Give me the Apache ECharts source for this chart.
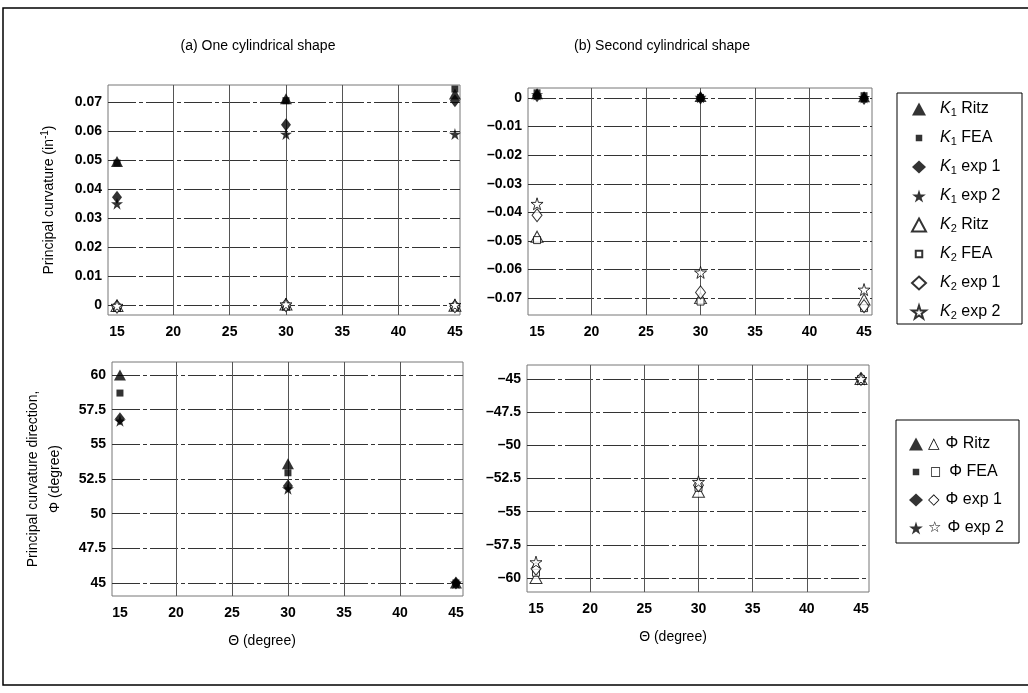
<!DOCTYPE html>
<html><head><meta charset="utf-8">
<script src="https://cdn.jsdelivr.net/npm/echarts@6/dist/echarts.min.js"></script>
<style>html,body{margin:0;padding:0;background:#fff}#c{width:1028px;height:693px}</style>
</head><body><div id="c"></div>
<script>
// ---- data ----
const theta = [15, 30, 45];
// (a) One cylindrical shape – principal curvatures (1/in)
const aK1Ritz = [0.0495, 0.0712, 0.0728];
const aK1FEA  = [0.0490, 0.0705, 0.0745];
const aK1Exp1 = [0.0372, 0.0622, 0.0705];
const aK1Exp2 = [0.0350, 0.0590, 0.0590];
const aK2Ritz = [-0.0003, 0.0002, -0.0002];
const aK2FEA  = [-0.0008, -0.0005, -0.0006];
const aK2Exp1 = [-0.0005, 0.0000, -0.0004];
const aK2Exp2 = [-0.0002, 0.0003, 0.0001];
// (b) Second cylindrical shape – principal curvatures (1/in)
const bK1Ritz = [0.0015, 0.0005, 0.0004];
const bK1FEA  = [0.0018, 0.0002, 0.0008];
const bK1Exp1 = [0.0008, 0.0000, -0.0002];
const bK1Exp2 = [0.0012, 0.0003, 0.0002];
const bK2Ritz = [-0.0485, -0.0700, -0.0705];
const bK2FEA  = [-0.0497, -0.0712, -0.0735];
const bK2Exp1 = [-0.0410, -0.0680, -0.0728];
const bK2Exp2 = [-0.0370, -0.0610, -0.0670];
// principal curvature direction Phi (degree)
const aPhiRitz = [60.0, 53.6, 45.0];
const aPhiFEA  = [58.7, 52.95, 45.0];
const aPhiExp1 = [56.85, 52.0, 45.0];
const aPhiExp2 = [56.7, 51.8, 45.0];
const bPhiRitz = [-60.0, -53.5, -45.0];
const bPhiFEA  = [-59.6, -53.2, -45.0];
const bPhiExp1 = [-59.3, -53.0, -45.0];
const bPhiExp2 = [-58.8, -52.75, -45.0];
// ticks
const thetaTicks = [15, 20, 25, 30, 35, 40, 45];
const thetaGrid = [20, 25, 30, 35, 40];
const kTicksA = [0, 0.01, 0.02, 0.03, 0.04, 0.05, 0.06, 0.07];
const kTicksB = [-0.07, -0.06, -0.05, -0.04, -0.03, -0.02, -0.01, 0];
const phiTicksA = [45, 47.5, 50, 52.5, 55, 57.5, 60];
const phiTicksB = [-60, -57.5, -55, -52.5, -50, -47.5, -45];
const kNames = ['K1 Ritz', 'K1 FEA', 'K1 exp 1', 'K1 exp 2', 'K2 Ritz', 'K2 FEA', 'K2 exp 1', 'K2 exp 2'];
const phiNames = ['Φ Ritz', 'Φ FEA', 'Φ exp 1', 'Φ exp 2'];
const hollowGlyphs = ['△', '□', '◇', '☆'];

// ---- styling ----
const FONT = 'Liberation Sans, Arial, sans-serif';
const STAR = 'path://M50,0 L61,35 L98,35 L68,57 L79,91 L50,70 L21,91 L32,57 L2,35 L39,35 Z';
const SMALL_RECT = 'path://M0,0M14,14M3.5,3.5L10.5,3.5L10.5,10.5L3.5,10.5Z';
const shapes = [
  {symbol: 'triangle', size: [12, 11]},
  {symbol: 'rect', size: 7},
  {symbol: 'diamond', size: [10, 13]},
  {symbol: STAR, size: 12}
];
const filled = {color: '#000', borderColor: '#000', borderWidth: 0};
const hollow = {color: '#fff', borderColor: '#000', borderWidth: 1};

const zip = (xs, ys) => xs.map((x, i) => [x, ys[i]]);

function xAxis(gi, min, max) {
  return {
    type: 'value', gridIndex: gi, min: min, max: max,
    axisLine: {show: false},
    axisTick: {show: false, customValues: thetaGrid},
    axisLabel: {customValues: thetaTicks, margin: 10, color: '#000',
      fontFamily: FONT, fontSize: 14, fontWeight: 'bold'},
    splitLine: {show: true, lineStyle: {color: '#555', width: 1}}
  };
}
function yAxis(gi, min, max, ticks, name, nameGap) {
  return {
    type: 'value', gridIndex: gi, min: min, max: max,
    axisLine: {show: false},
    axisTick: {show: false, customValues: ticks},
    axisLabel: {customValues: ticks, margin: 6, color: '#000',
      fontFamily: FONT, fontSize: 14, fontWeight: 'bold',
      formatter: v => String(+v.toFixed(4)).replace('-', '–')},
    splitLine: {show: true, lineStyle: {color: '#333', width: 1, type: [28, 3, 4, 3]}},
    name: name, nameLocation: 'middle', nameGap: nameGap, nameRotate: 90,
    nameTextStyle: {color: '#000', fontFamily: FONT, fontSize: 14, lineHeight: 22,
      rich: {
        t: {fontFamily: FONT, fontSize: 14, color: '#000'},
        sp: {fontFamily: FONT, fontSize: 10, color: '#000', padding: [0, 0, 7, 0]}
      }}
  };
}

function kSeries(gi, arrays) {
  return arrays.map((ys, i) => ({
    name: kNames[i], type: 'scatter', xAxisIndex: gi, yAxisIndex: gi,
    symbol: shapes[i % 4].symbol, symbolSize: shapes[i % 4].size,
    itemStyle: i < 4 ? filled : hollow,
    z: i < 4 ? 3 : 4,
    data: zip(theta, ys)
  }));
}
function phiSeries(gi, arrays, isHollow) {
  return arrays.map((ys, i) => ({
    name: phiNames[i], type: 'scatter', xAxisIndex: gi, yAxisIndex: gi,
    symbol: shapes[i].symbol, symbolSize: shapes[i].size,
    itemStyle: isHollow ? hollow : filled,
    data: zip(theta, ys)
  }));
}

const gridStyle = {show: true, borderColor: '#777', borderWidth: 1, backgroundColor: 'transparent'};
const legendText = {fontFamily: FONT, fontSize: 16, color: '#000',
  rich: {
    k: {fontFamily: FONT, fontSize: 16, fontStyle: 'italic', color: '#000', padding: [0, 0, 0, 9]},
    s: {fontFamily: FONT, fontSize: 11, color: '#000', padding: [8, 0, 0, 0]},
    t: {fontFamily: FONT, fontSize: 16, color: '#000'},
    h: {fontFamily: 'DejaVu Sans', fontSize: 15, color: '#000', padding: [0, 6, 0, 0]},
    hs: {fontFamily: 'DejaVu Sans', fontSize: 12, color: '#000', padding: [0, 8, 0, 2]}
  }};
const legendIcon = n => (n.indexOf('FEA') >= 0 ? {name: n, icon: SMALL_RECT} : n);

const option = {
  backgroundColor: '#fff',
  animation: false,
  graphic: [
    {type: 'rect', shape: {x: 3, y: 8, width: 1040, height: 677}, style: {fill: 'none', stroke: '#000', lineWidth: 1.5}, z: 0, silent: true},
    {type: 'rect', shape: {x: 897, y: 93, width: 125, height: 231}, style: {fill: 'none', stroke: '#000', lineWidth: 1}, silent: true},
    {type: 'rect', shape: {x: 896, y: 420, width: 123, height: 123}, style: {fill: 'none', stroke: '#000', lineWidth: 1}, silent: true},
    {type: 'text', x: 258, y: 46, style: {text: '(a) One cylindrical shape', font: '14px ' + FONT, fill: '#000', textAlign: 'center', textVerticalAlign: 'middle'}},
    {type: 'text', x: 662, y: 46, style: {text: '(b) Second cylindrical shape', font: '14px ' + FONT, fill: '#000', textAlign: 'center', textVerticalAlign: 'middle'}},
    {type: 'text', x: 262, y: 641, style: {text: 'Θ (degree)', font: '14px ' + FONT, fill: '#000', textAlign: 'center', textVerticalAlign: 'middle'}},
    {type: 'text', x: 673, y: 637, style: {text: 'Θ (degree)', font: '14px ' + FONT, fill: '#000', textAlign: 'center', textVerticalAlign: 'middle'}}
  ],
  legend: [
    {data: kNames.map(legendIcon), orient: 'vertical', left: 906, top: 96, itemWidth: 14, itemHeight: 13, itemGap: 11.5,
      selectedMode: false, textStyle: legendText,
      formatter: n => '{k|K}{s|' + n.charAt(1) + '}{t|' + n.slice(2) + '}'},
    {data: phiNames.map(legendIcon), orient: 'vertical', left: 904, top: 431, itemWidth: 14, itemHeight: 13, itemGap: 12,
      selectedMode: false, textStyle: legendText,
      formatter: n => {
        const i = phiNames.indexOf(n);
        return (i === 1 ? '{hs|' : '{h|') + hollowGlyphs[i] + '}{t|' + n + '}';
      }}
  ],
  grid: [
    Object.assign({left: 108, top: 85, width: 352, height: 230}, gridStyle),
    Object.assign({left: 528, top: 88, width: 344, height: 227}, gridStyle),
    Object.assign({left: 112, top: 362, width: 351, height: 234}, gridStyle),
    Object.assign({left: 527, top: 365, width: 342, height: 227}, gridStyle)
  ],
  xAxis: [
    xAxis(0, 14.2, 45.45),
    xAxis(1, 14.17, 45.73),
    xAxis(2, 14.29, 45.63),
    xAxis(3, 14.17, 45.74)
  ],
  yAxis: [
    yAxis(0, -0.0034, 0.0759, kTicksA, '{t|Principal curvature (in}{sp|-1}{t|)}', 48),
    yAxis(1, -0.0759, 0.0035, kTicksB, '', 0),
    yAxis(2, 44.06, 60.94, phiTicksA, 'Principal curvature direction,\nΦ (degree)', 46),
    yAxis(3, -61.05, -43.95, phiTicksB, '', 0)
  ],
  series: [].concat(
    kSeries(0, [aK1Ritz, aK1FEA, aK1Exp1, aK1Exp2, aK2Ritz, aK2FEA, aK2Exp1, aK2Exp2]),
    kSeries(1, [bK1Ritz, bK1FEA, bK1Exp1, bK1Exp2, bK2Ritz, bK2FEA, bK2Exp1, bK2Exp2]),
    phiSeries(2, [aPhiRitz, aPhiFEA, aPhiExp1, aPhiExp2], false),
    phiSeries(3, [bPhiRitz, bPhiFEA, bPhiExp1, bPhiExp2], true)
  )
};
const chart = echarts.init(document.getElementById('c'), null, {renderer: 'canvas'});
chart.setOption(option);
</script>
</body></html>
